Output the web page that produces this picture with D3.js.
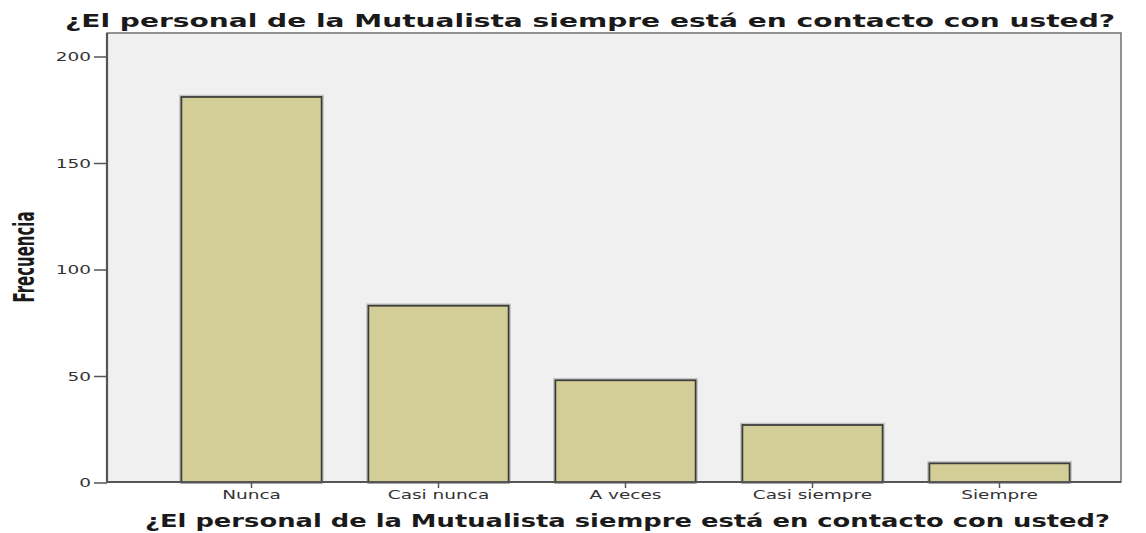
<!DOCTYPE html>
<html lang="es">
<head>
  <meta charset="UTF-8">
  <title>Frecuencia</title>
  <script src="https://d3js.org/d3.v7.min.js"></script>
  <style>
    body { margin: 0; background: #fff; }
    text { font-family: "DejaVu Sans", sans-serif; }
  </style>
</head>
<body>
  <svg width="1146" height="533"></svg>

  <script>
    // data
    var categories = ["Nunca", "Casi nunca", "A veces", "Casi siempre", "Siempre"];
    var counts = [181, 83, 48, 27, 9];
    var yTicks = [0, 50, 100, 150, 200];
    var titleText = "¿El personal de la Mutualista siempre está en contacto con usted?";

    var svg = d3.select("svg");

    // plot frame
    var plot = { left: 107, right: 1121, top: 33, bottom: 482 };
    var stretch = 1.48; // the original image is stretched sideways

    var x = d3.scaleBand()
        .domain(categories)
        .range([158, 1093])
        .paddingInner(0.25)
        .paddingOuter(0.125);

    var y = d3.scaleLinear()
        .domain([0, 200])
        .range([482.5, 56.5]);

    // background
    svg.append("rect")
        .attr("x", plot.left)
        .attr("y", plot.top)
        .attr("width", plot.right - plot.left)
        .attr("height", plot.bottom - plot.top)
        .attr("fill", "#f0f0f0")
        .attr("stroke", "#707070")
        .attr("stroke-width", 1.5);

    // bar shadows
    svg.append("g")
        .selectAll("rect")
        .data(counts)
        .enter().append("rect")
        .attr("x", (d, i) => x(categories[i]) - 1.5)
        .attr("y", d => y(d) - 1.5)
        .attr("width", x.bandwidth() + 3)
        .attr("height", d => y(0) - y(d) + 1.5)
        .attr("fill", "none")
        .attr("stroke", "#c4c4c4")
        .attr("stroke-width", 1.5);

    // bars
    svg.append("g")
        .selectAll("rect")
        .data(counts)
        .enter().append("rect")
        .attr("x", (d, i) => x(categories[i]))
        .attr("y", d => y(d))
        .attr("width", x.bandwidth())
        .attr("height", d => y(0) - y(d))
        .attr("fill", "#d3ce98")
        .attr("stroke", "#3c3c38")
        .attr("stroke-width", 1.8);

    // axes lines (left and bottom heavier)
    svg.append("line")
        .attr("x1", plot.left).attr("x2", plot.left)
        .attr("y1", plot.top).attr("y2", plot.bottom)
        .attr("stroke", "#555").attr("stroke-width", 2.2);
    svg.append("line")
        .attr("x1", plot.left).attr("x2", plot.right)
        .attr("y1", plot.bottom).attr("y2", plot.bottom)
        .attr("stroke", "#555").attr("stroke-width", 2);

    // y axis
    var yAxis = svg.append("g")
        .attr("transform", "translate(" + plot.left + ",0)")
        .call(d3.axisLeft(y).tickValues(yTicks).tickSize(13));
    yAxis.select(".domain").remove();
    yAxis.selectAll("line").attr("stroke", "#555").attr("stroke-width", 1.5);
    yAxis.selectAll("text")
        .attr("x", 0)
        .attr("transform", "translate(-16,0) scale(" + stretch + ",1)")
        .attr("font-size", 12.5)
        .attr("fill", "#333")
        .attr("font-family", "DejaVu Sans, sans-serif");

    // x axis
    var xAxis = svg.append("g")
        .attr("transform", "translate(0," + plot.bottom + ")")
        .call(d3.axisBottom(x).tickSize(6));
    xAxis.select(".domain").remove();
    xAxis.selectAll("line").attr("stroke", "#555").attr("stroke-width", 1.5);
    xAxis.selectAll("text")
        .attr("y", 0)
        .attr("dy", 0)
        .attr("transform", "translate(0,17) scale(" + stretch + ",1)")
        .attr("font-size", 12.5)
        .attr("fill", "#333")
        .attr("font-family", "DejaVu Sans, sans-serif");

    // title
    svg.append("text")
        .attr("x", 65)
        .attr("y", 27)
        .attr("font-size", 17.5)
        .attr("font-weight", "bold")
        .attr("fill", "#1a1a1a")
        .attr("textLength", 1050)
        .attr("lengthAdjust", "spacingAndGlyphs")
        .text(titleText);

    // x axis title
    svg.append("text")
        .attr("x", 145)
        .attr("y", 527)
        .attr("font-size", 17)
        .attr("font-weight", "bold")
        .attr("fill", "#1a1a1a")
        .attr("textLength", 965)
        .attr("lengthAdjust", "spacingAndGlyphs")
        .text(titleText);

    // y axis title
    svg.append("text")
        .attr("transform", "translate(33.5,257) rotate(-90)")
        .attr("text-anchor", "middle")
        .attr("font-size", 29)
        .attr("font-weight", "bold")
        .attr("fill", "#1a1a1a")
        .attr("font-family", "Liberation Sans Narrow, DejaVu Sans Condensed, sans-serif")
        .attr("textLength", 91)
        .attr("lengthAdjust", "spacingAndGlyphs")
        .text("Frecuencia");
  </script>
</body>
</html>
